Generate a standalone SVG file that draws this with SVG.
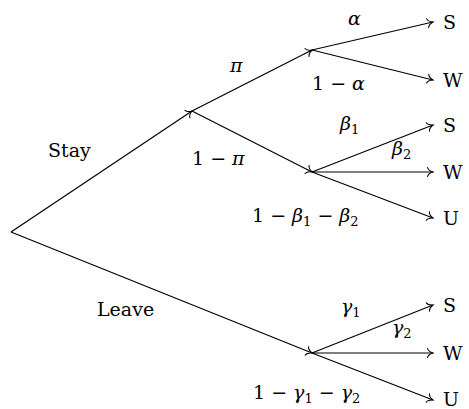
<svg xmlns="http://www.w3.org/2000/svg" width="469" height="409" viewBox="0 0 469 409">
<style>
.t{font-family:"DejaVu Serif",serif;font-size:19px;fill:#000}
.m{font-style:italic}
.sub{font-size:13px;font-style:normal}
.e{fill:none;stroke:#000;stroke-width:1.2;marker-end:url(#to)}
</style>
<defs>
<marker id="to" viewBox="-8 -6 10 12" markerWidth="10" markerHeight="12" refX="0" refY="0" orient="auto" markerUnits="userSpaceOnUse">
<path d="M-5.5,-4.5 C-5,-2 -1.8,-0.6 0,0 C-1.8,0.6 -5,2 -5.5,4.5" fill="none" stroke="#000" stroke-width="1.1" stroke-linecap="round"/>
</marker>
</defs>
<g id="connectors">
<line class="e" x1="11" y1="232" x2="192" y2="111"/>
<line class="e" x1="11" y1="232" x2="312" y2="353"/>
<line class="e" x1="192" y1="111" x2="312" y2="50"/>
<line class="e" x1="192" y1="111" x2="312" y2="172"/>
<line class="e" x1="312" y1="50" x2="433" y2="22"/>
<line class="e" x1="312" y1="50" x2="433" y2="80"/>
<line class="e" x1="312" y1="172" x2="433" y2="125"/>
<line class="e" x1="312" y1="172" x2="433" y2="172"/>
<line class="e" x1="312" y1="172" x2="433" y2="218"/>
<line class="e" x1="312" y1="353" x2="433" y2="305"/>
<line class="e" x1="312" y1="353" x2="433" y2="353"/>
<line class="e" x1="312" y1="353" x2="433" y2="400"/>
</g>
<g class="t">
<g id="edge-labels">
<text x="48" y="157">Stay</text>
<text x="97" y="316">Leave</text>
<text x="230" y="72" class="m">π</text>
<text x="192" y="165">1 − <tspan class="m">π</tspan></text>
<text x="348" y="25" class="m">α</text>
<text x="312" y="90">1 − <tspan class="m">α</tspan></text>
<text x="340" y="130"><tspan class="m">β</tspan><tspan class="sub" dy="4">1</tspan></text>
<text x="392" y="155"><tspan class="m">β</tspan><tspan class="sub" dy="4">2</tspan></text>
<text x="252" y="222">1 − <tspan class="m">β</tspan><tspan class="sub" dy="4">1</tspan><tspan dy="-4"> − </tspan><tspan class="m">β</tspan><tspan class="sub" dy="4">2</tspan></text>
<text x="341" y="313"><tspan class="m">γ</tspan><tspan class="sub" dy="4">1</tspan></text>
<text x="392" y="334"><tspan class="m">γ</tspan><tspan class="sub" dy="4">2</tspan></text>
<text x="253" y="399">1 − <tspan class="m">γ</tspan><tspan class="sub" dy="4">1</tspan><tspan dy="-4"> − </tspan><tspan class="m">γ</tspan><tspan class="sub" dy="4">2</tspan></text>
</g>
<g id="leaf-s1"><text x="443" y="29">S</text></g>
<g id="leaf-w1"><text x="443" y="87">W</text></g>
<g id="leaf-s2"><text x="443" y="132">S</text></g>
<g id="leaf-w2"><text x="443" y="179">W</text></g>
<g id="leaf-u2"><text x="443" y="225">U</text></g>
<g id="leaf-s3"><text x="443" y="312">S</text></g>
<g id="leaf-w3"><text x="443" y="360">W</text></g>
<g id="leaf-u3"><text x="443" y="406">U</text></g>
</g>
</svg>
